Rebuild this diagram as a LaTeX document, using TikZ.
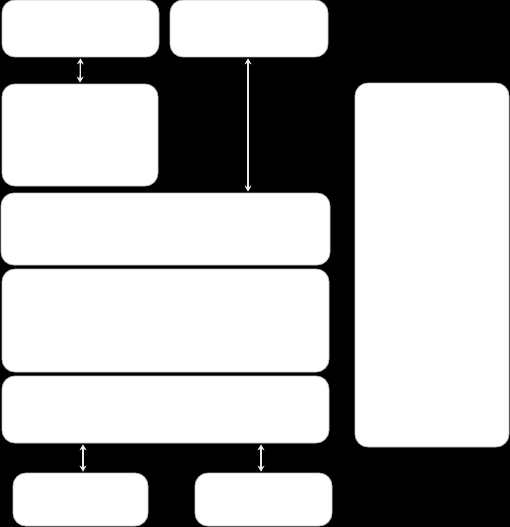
\documentclass[tikz,border=0pt]{standalone}
\usetikzlibrary{arrows.meta}
\begin{document}
\begin{tikzpicture}[x=1pt,y=-1pt,
  blk/.style={draw=black!25,line width=0.8pt,fill=white,rounded corners=13pt,inner sep=0pt},
  link/.style={draw=white!92!black,line width=1.3pt,{Stealth[length=6pt,width=7pt]}-{Stealth[length=6pt,width=7pt]},shorten <=1pt,shorten >=1pt}]
\fill[black] (0,0) rectangle (510,527);
\useasboundingbox (0,0) rectangle (510,527);
\node[blk,minimum width=157pt,minimum height=57pt] (A) at (80.5,28.5) {};
\node[blk,minimum width=158pt,minimum height=57pt] (B) at (249,28.5) {};
\node[blk,minimum width=156pt,minimum height=102pt] (C) at (80,135) {};
\node[blk,minimum width=329pt,minimum height=72pt] (D) at (165.5,229) {};
\node[blk,minimum width=327pt,minimum height=103pt] (E) at (165.5,320.5) {};
\node[blk,minimum width=327pt,minimum height=67pt] (F) at (165.5,409.5) {};
\node[blk,minimum width=135pt,minimum height=53pt] (G) at (80.5,499.5) {};
\node[blk,minimum width=137pt,minimum height=53pt] (H) at (263.5,499.5) {};
\node[blk,minimum width=154pt,minimum height=364pt] (R) at (432,265) {};
\draw[link] (A.south) -- (C.north);
\draw[link] ([xshift=-1pt]B.south) -- ([xshift=-1pt]B.south |- D.north);
\draw[link] ([xshift=2.5pt]G.north |- F.south) -- ([xshift=2.5pt]G.north);
\draw[link] ([xshift=-2.5pt]H.north |- F.south) -- ([xshift=-2.5pt]H.north);
\end{tikzpicture}
\end{document}
